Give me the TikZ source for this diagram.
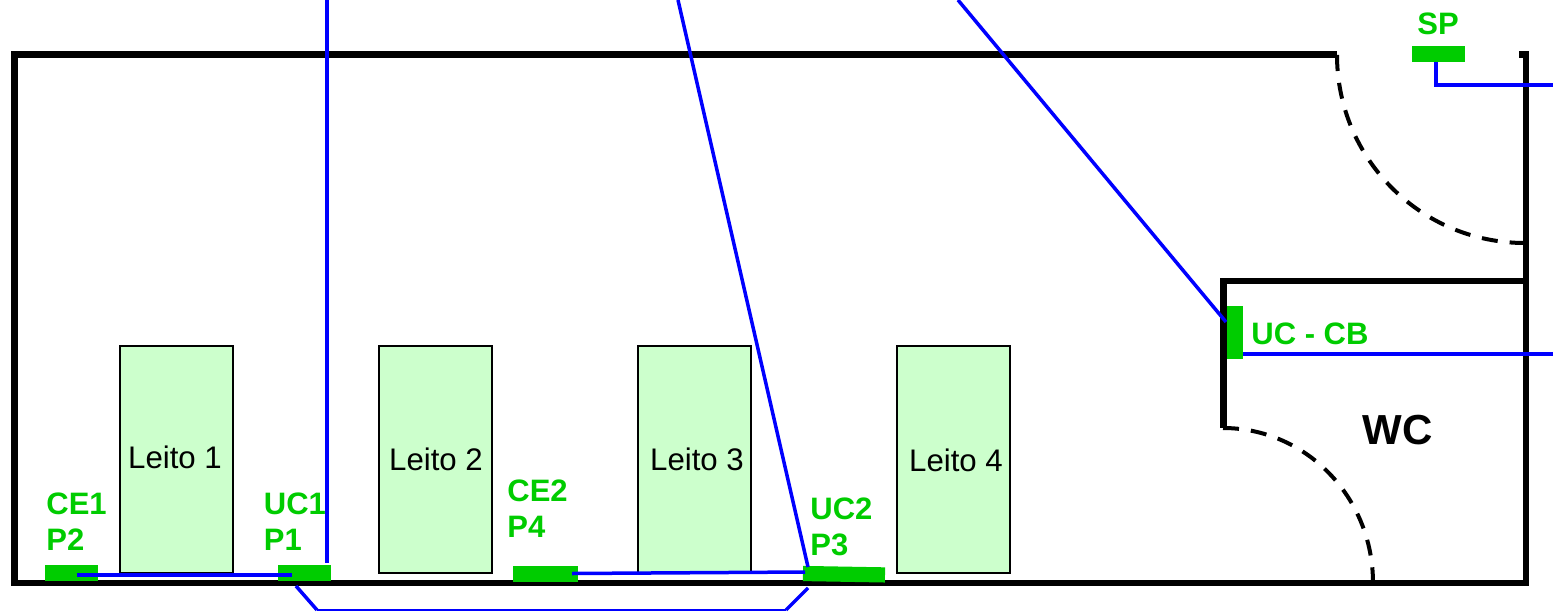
\documentclass[tikz,border=0pt]{standalone}
\usepackage{fontspec}
\setmainfont{Liberation Sans}
\definecolor{grn}{HTML}{00CC00}
\definecolor{bedfill}{HTML}{CCFFCC}
\definecolor{blu}{HTML}{0000FF}
\tikzset{
  wall/.style={line width=3.1pt,draw=black,line join=miter},
  door/.style={line width=2pt,draw=black,dash pattern=on 8pt off 6pt},
  bed/.style={draw=black,line width=0.7pt,fill=bedfill,minimum width=56.5pt,minimum height=113.5pt,inner sep=0pt},
  sensor/.style={fill=grn,draw=none,inner sep=0pt,minimum width=#1pt},
  sensor/.default=26.5,
  cable/.style={draw=blu,line width=1.75pt},
  thincable/.style={draw=blu,line width=0.9pt},
  lbl/.style={text=grn,font=\fontsize{15.5}{18}\selectfont\bfseries,anchor=base west,inner sep=0pt,align=left},
  bedlbl/.style={font=\fontsize{15.6}{18}\selectfont,anchor=base,inner sep=0pt},
}
\begin{document}
\begin{tikzpicture}[x=0.5pt,y=-0.5pt]
\useasboundingbox (0,0) rectangle (1553,611);
% walls
\draw[wall] (1337,54.5) -- (14.5,54.5) -- (14.5,583) -- (1526,583) -- (1526,54.5) -- (1519,54.5);
\draw[wall] (1526,281) -- (1223.5,281) -- (1223.5,428);
% doors
\draw[door] (1337,55) .. controls (1337,159) and (1421,243) .. (1525,243);
\draw[door] (1223,428) .. controls (1306,428) and (1373,497) .. (1373,583);
% beds
\node[bed] (b1) at (176.5,459.5) {};
\node[bed] (b2) at (435.5,459.5) {};
\node[bed] (b3) at (694.5,459.5) {};
\node[bed] (b4) at (953.5,459.5) {};
\node[bedlbl] (t1) at (175,468) {Leito 1};
\node[bedlbl] (t2) at (436,470) {Leito 2};
\node[bedlbl] (t3) at (697,470) {Leito 3};
\node[bedlbl] (t4) at (956,471) {Leito 4};
% green sensors
\node[sensor=26.5,minimum height=8pt] (ce1) at (71.5,573) {};
\node[sensor=26.5,minimum height=8.2pt] (uc1) at (304.5,572.7) {};
\node[sensor=32.5,minimum height=7.8pt] (ce2) at (545.5,573.8) {};
\node[sensor=41,minimum height=7.6pt,rotate=-1] (uc2) at (844,574.2) {};
\node[sensor=8,minimum height=26.5pt] (ucb) at (1235,332.5) {};
\node[sensor=26.5,minimum height=8pt] (sp) at (1438.5,54) {};
% labels
\node[lbl] (lce1) at (46,550) {CE1\\P2};
\node[lbl] (luc1) at (263.5,550) {UC1\\P1};
\node[lbl] (lce2) at (507,537) {CE2\\P4};
\node[lbl] (luc2) at (810,555) {UC2\\P3};
\node[lbl] (lsp) at (1417,34) {SP};
\node[lbl] (lucb) at (1251,344) {UC - CB};
\node[font=\fontsize{21}{24}\selectfont\bfseries,anchor=base west,inner sep=0pt] (wc) at (1362,444) {WC};
% cable end points
\coordinate (top1) at (327,0);
\coordinate (top2) at (678,0);
\coordinate (top3) at (958,0);
\coordinate (r1) at (1553,85);
\coordinate (r2) at (1553,354);
\coordinate (uc1in) at (292,575);
\coordinate (ce1in) at (77,575);
\coordinate (ce2in) at (572,573.5);
\coordinate (uc2in) at (805,572);
\coordinate (uc2top) at (808,567);
\coordinate (uc1top) at (327,563);
\coordinate (ucbin) at (1226,322);
\coordinate (ucbout) at (1243,354);
\coordinate (spout) at (1436,62);
\coordinate (u1) at (296,586);
\coordinate (u2) at (317,610);
\coordinate (u3) at (786,610);
\coordinate (u4) at (808,588);
% cables
\draw[cable] (top1) -- (uc1top);
\draw[cable] (ce1in) -- (uc1in);
\draw[cable] (ce2in) -- (uc2in);
\draw[cable] (top2) -- (uc2top);
\draw[cable] (top3) -- (ucbin);
\draw[cable] (ucbout) -- (r2);
\draw[cable,line join=miter] (spout) |- (r1);
\draw[cable] (u1) -- (u2);
\draw[thincable] (u2) -- (u3);
\draw[cable] (u3) -- (u4);
\end{tikzpicture}
\end{document}
